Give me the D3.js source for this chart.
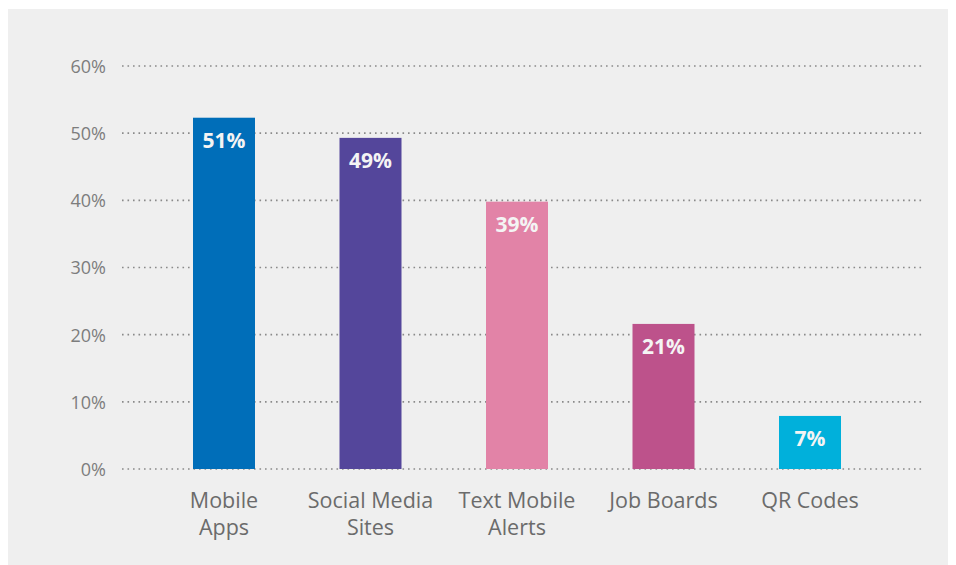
<!DOCTYPE html>
<html>
<head>
<meta charset="utf-8">
<script src="https://cdn.jsdelivr.net/npm/d3@7"></script>
<style>
  html, body { margin: 0; padding: 0; background: #ffffff; }
  svg { display: block; }
  text { font-family: "Open Sans", "Noto Sans", sans-serif; }
</style>
</head>
<body>
<svg id="chart" width="956" height="565"></svg>
<script>
const categories = [["Mobile", "Apps"], ["Social Media", "Sites"], ["Text Mobile", "Alerts"], ["Job Boards"], ["QR Codes"]];
const values = [52.3, 49.3, 39.8, 21.6, 7.9];
const valueLabels = ["51%", "49%", "39%", "21%", "7%"];
const colors = ["#006eb9", "#54469b", "#e283a7", "#bd528b", "#00b0db"];
const yTicks = [0, 10, 20, 30, 40, 50, 60];

const svg = d3.select("#chart");
svg.append("rect").attr("x", 8).attr("y", 9).attr("width", 940).attr("height", 556).attr("fill", "#efefef");

const keys = categories.map(c => c.join(" "));
const x = d3.scalePoint().domain(keys).range([224, 810]);
const y = d3.scaleLinear().domain([0, 60]).range([469, 66]);
const barW = 62;

// gridlines
const grid = svg.append("g");
grid.selectAll("line").data(yTicks).join("line")
  .attr("x1", 122).attr("x2", 925)
  .attr("y1", d => y(d)).attr("y2", d => y(d))
  .attr("stroke", "#8a8a8a").attr("stroke-width", 1.6)
  .attr("stroke-dasharray", "1.6,3.9");

// y axis labels
const yAxis = d3.axisLeft(y).tickValues(yTicks).tickFormat(d => d + "%").tickSize(0).tickPadding(0);
const ya = svg.append("g").attr("transform", "translate(106,0)").call(yAxis);
ya.select(".domain").remove();
ya.selectAll("text").attr("font-size", 18).attr("fill", "#7d7d7d")
  .attr("font-family", "'Open Sans', sans-serif").attr("dy", "0.36em");

// bars
const data = keys.map((k, i) => ({ k, v: values[i], label: valueLabels[i], color: colors[i], lines: categories[i] }));
svg.append("g").selectAll("rect").data(data).join("rect")
  .attr("x", d => x(d.k) - barW / 2).attr("width", barW)
  .attr("y", d => y(d.v)).attr("height", d => y(0) - y(d.v))
  .attr("fill", d => d.color);

// value labels
svg.append("g").selectAll("text").data(data).join("text")
  .attr("x", d => x(d.k)).attr("y", d => y(d.v) + 30)
  .attr("text-anchor", "middle").attr("font-size", 21).attr("font-weight", 700)
  .attr("fill", "#f4f4f4").text(d => d.label);

// category labels
const cl = svg.append("g").selectAll("text").data(data).join("text")
  .attr("x", d => x(d.k)).attr("y", 508)
  .attr("text-anchor", "middle").attr("font-size", 21.5).attr("fill", "#6b6b6b");
cl.selectAll("tspan").data(d => d.lines.map(l => ({ l, x: x(d.k) }))).join("tspan")
  .attr("x", d => d.x).attr("dy", (d, i) => i === 0 ? 0 : 27).text(d => d.l);
</script>
</body>
</html>
